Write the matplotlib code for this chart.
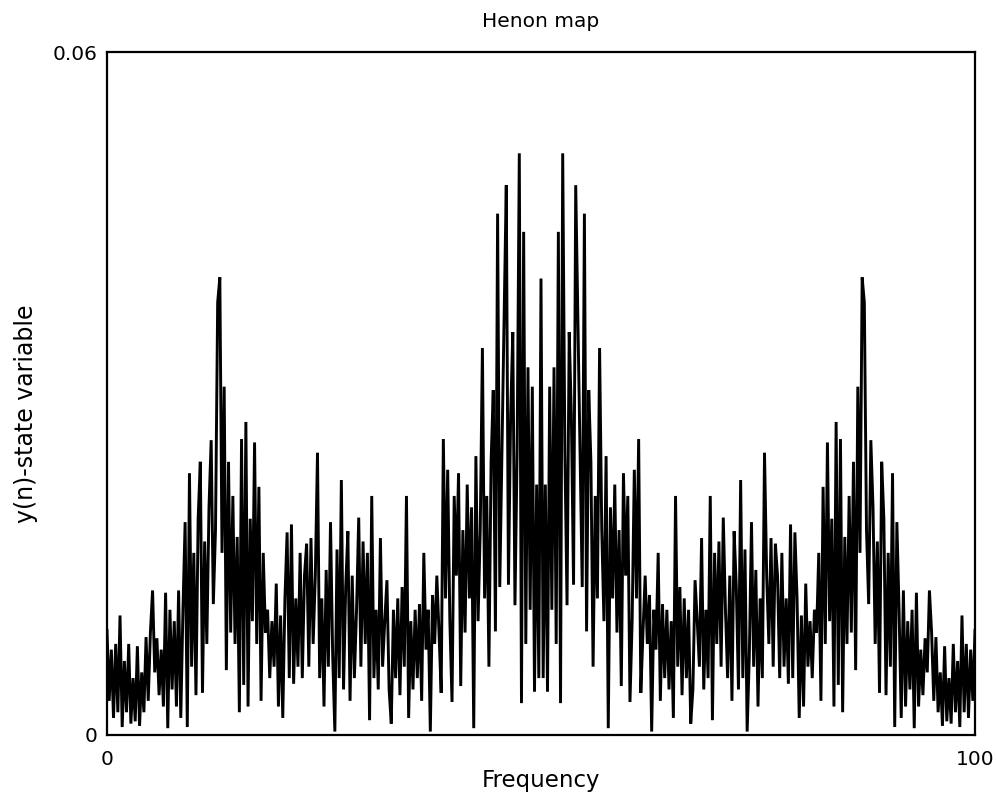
import numpy as np
import matplotlib
matplotlib.use("Agg")
import matplotlib.pyplot as plt

# Spectrum, in units of 1e-3, from frequency 0 to 50
# (the spectrum is mirror-symmetric about 50, so the right half is the reverse)
amp_half_milli = [
    9.2, 3.0, 7.5, 1.5, 8.0, 2.0, 10.5, 0.7, 6.5, 2.0,
    8.0, 1.0, 5.0, 1.2, 7.8, 0.8, 5.5, 2.0, 8.6, 3.0,
    9.0, 12.7, 5.5, 8.5, 3.5, 7.5, 2.5, 12.5, 0.6, 11.0,
    4.0, 10.0, 2.5, 12.7, 1.5, 11.0, 18.7, 0.7, 23.0, 6.0,
    16.0, 3.5, 19.0, 24.0, 3.7, 17.0, 8.0, 20.0, 25.9, 11.5,
    18.0, 38.0, 40.2, 16.0, 30.6, 5.7, 24.0, 9.0, 21.0, 8.0,
    17.4, 2.0, 26.0, 4.4, 27.5, 2.5, 19.0, 10.0, 25.7, 8.0,
    21.8, 3.0, 16.0, 9.0, 11.0, 5.0, 10.0, 6.0, 13.3, 2.5,
    10.5, 1.5, 12.0, 17.8, 5.0, 18.5, 4.5, 12.0, 6.0, 16.0,
    5.0, 14.0, 16.8, 6.0, 17.3, 8.0, 14.0, 24.8, 5.0, 12.0,
    2.5, 14.5, 6.0, 18.7, 7.0, 0.3, 16.3, 5.0, 22.4, 4.0,
    13.0, 17.9, 3.0, 14.0, 5.0, 11.0, 19.1, 6.0, 17.0, 8.0,
    16.0, 1.3, 21.0, 5.0, 11.0, 4.0, 17.3, 6.0, 10.0, 13.6,
    4.0, 1.0, 11.0, 5.0, 12.0, 3.5, 13.0, 6.0, 21.0, 1.5,
    10.0, 4.0, 11.0, 5.0, 11.5, 3.0, 16.0, 7.5, 11.0, 0.3,
    12.3, 8.0, 14.0, 9.0, 3.7, 26.0, 12.0, 23.3, 10.0, 2.9,
    21.0, 14.0, 23.0, 4.3, 18.0, 9.0, 22.0, 12.0, 20.0, 0.6,
    24.5, 10.0, 18.0, 34.0, 12.0, 21.0, 6.0, 24.0, 30.3, 9.1,
    45.8, 13.0, 25.0, 36.7, 48.3, 13.2, 28.0, 35.4, 11.4, 25.0,
    51.1, 2.8, 44.2, 8.0, 32.3, 11.0, 30.6, 3.8, 22.0, 5.0,
    40.1,
]

half = np.array(amp_half_milli) / 1000.0
amp = np.concatenate([half, half[-2::-1]])
freq = np.linspace(0, 100, len(amp))

x_ticks = [0, 100]
x_tick_labels = ["0", "100"]
y_ticks = [0, 0.06]
y_tick_labels = ["0", "0.06"]

fig = plt.figure(figsize=(9.97, 8.11), dpi=100)
ax = fig.add_axes([107 / 997, 1 - 735 / 811, (975 - 107) / 997, (735 - 52) / 811])

ax.plot(freq, amp, color="black", linewidth=2.1, solid_joinstyle="miter")

ax.set_xlim(0, 100)
ax.set_ylim(0, 0.06)
ax.set_xticks(x_ticks)
ax.set_xticklabels(x_tick_labels)
ax.set_yticks(y_ticks)
ax.set_yticklabels(y_tick_labels)
ax.tick_params(axis="both", length=0, labelsize=14.5)
ax.tick_params(axis="x", pad=11)
ax.tick_params(axis="y", pad=7)
for s in ax.spines.values():
    s.set_linewidth(1.6)

ax.set_title("Henon map", fontsize=14.5, pad=18)
ax.set_xlabel("Frequency", fontsize=16.5, labelpad=0)
ax.set_ylabel("y(n)-state variable", fontsize=17)
ax.yaxis.set_label_coords(-0.08, 0.47)

fig.savefig("out.png", dpi=100)
